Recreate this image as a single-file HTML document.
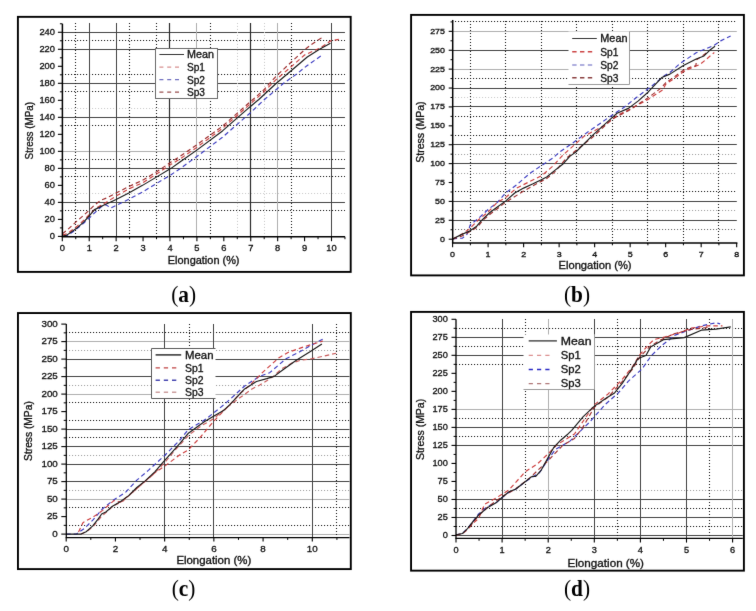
<!DOCTYPE html>
<html><head><meta charset="utf-8"><title>Stress-elongation curves</title>
<style>html,body{margin:0;padding:0;background:#fff;width:756px;height:611px;overflow:hidden}
</style></head>
<body>
<svg width="756" height="611" viewBox="0 0 756 611" style="display:block">
<rect width="756" height="611" fill="#fff"/>
<defs><filter id="bl" filterUnits="userSpaceOnUse" x="0" y="0" width="756" height="611" color-interpolation-filters="sRGB"><feConvolveMatrix order="3" kernelMatrix="0.0072 0.0847 0.0072 0.0847 1.0000 0.0847 0.0072 0.0847 0.0072" edgeMode="duplicate"/></filter></defs>
<g filter="url(#bl)">
<rect width="756" height="611" fill="#fff"/>
<rect x="17.9" y="16.85" width="332.8" height="255.05" fill="none" stroke="#000" stroke-width="1.9"/>
<line x1="62" y1="32.5" x2="344.96" y2="32.5" stroke="#444" stroke-width="1" stroke-linecap="butt"/>
<line x1="62" y1="40.5" x2="344.96" y2="40.5" stroke="#1a1a1a" stroke-width="1.1" stroke-dasharray="1.1 1.9" stroke-linecap="butt"/>
<line x1="62" y1="49.5" x2="344.96" y2="49.5" stroke="#444" stroke-width="1" stroke-linecap="butt"/>
<line x1="62" y1="74.5" x2="344.96" y2="74.5" stroke="#1a1a1a" stroke-width="1.1" stroke-dasharray="1.1 1.9" stroke-linecap="butt"/>
<line x1="62" y1="83.5" x2="344.96" y2="83.5" stroke="#444" stroke-width="1" stroke-linecap="butt"/>
<line x1="62" y1="91.5" x2="344.96" y2="91.5" stroke="#1a1a1a" stroke-width="1.1" stroke-dasharray="1.1 1.9" stroke-linecap="butt"/>
<line x1="62" y1="108.5" x2="344.96" y2="108.5" stroke="#cccccc" stroke-width="1" stroke-dasharray="1.1 1.9" stroke-linecap="butt"/>
<line x1="62" y1="117.5" x2="344.96" y2="117.5" stroke="#444" stroke-width="1" stroke-linecap="butt"/>
<line x1="62" y1="125.5" x2="344.96" y2="125.5" stroke="#1a1a1a" stroke-width="1.1" stroke-dasharray="1.1 1.9" stroke-linecap="butt"/>
<line x1="62" y1="151.5" x2="344.96" y2="151.5" stroke="#b0b0b0" stroke-width="1" stroke-linecap="butt"/>
<line x1="62" y1="159.5" x2="344.96" y2="159.5" stroke="#1a1a1a" stroke-width="1.1" stroke-dasharray="1.1 1.9" stroke-linecap="butt"/>
<line x1="62" y1="168.5" x2="344.96" y2="168.5" stroke="#444" stroke-width="1" stroke-linecap="butt"/>
<line x1="62" y1="176.5" x2="344.96" y2="176.5" stroke="#1a1a1a" stroke-width="1.1" stroke-dasharray="1.1 1.9" stroke-linecap="butt"/>
<line x1="62" y1="193.5" x2="344.96" y2="193.5" stroke="#cccccc" stroke-width="1" stroke-dasharray="1.1 1.9" stroke-linecap="butt"/>
<line x1="62" y1="202.5" x2="344.96" y2="202.5" stroke="#444" stroke-width="1" stroke-linecap="butt"/>
<line x1="62" y1="210.5" x2="344.96" y2="210.5" stroke="#1a1a1a" stroke-width="1.1" stroke-dasharray="1.1 1.9" stroke-linecap="butt"/>
<line x1="75.5" y1="237" x2="75.5" y2="23" stroke="#1a1a1a" stroke-width="1.1" stroke-dasharray="1.1 1.9" stroke-linecap="butt"/>
<line x1="89.5" y1="237" x2="89.5" y2="23" stroke="#444" stroke-width="1" stroke-linecap="butt"/>
<line x1="116.5" y1="237" x2="116.5" y2="23" stroke="#444" stroke-width="1" stroke-linecap="butt"/>
<line x1="129.5" y1="237" x2="129.5" y2="23" stroke="#1a1a1a" stroke-width="1.1" stroke-dasharray="1.1 1.9" stroke-linecap="butt"/>
<line x1="156.5" y1="237" x2="156.5" y2="23" stroke="#1a1a1a" stroke-width="1.1" stroke-dasharray="1.1 1.9" stroke-linecap="butt"/>
<line x1="169.5" y1="237" x2="169.5" y2="23" stroke="#2a2a2a" stroke-width="1.2" stroke-linecap="butt"/>
<line x1="196.5" y1="237" x2="196.5" y2="23" stroke="#b0b0b0" stroke-width="1" stroke-linecap="butt"/>
<line x1="210.5" y1="237" x2="210.5" y2="23" stroke="#1a1a1a" stroke-width="1.1" stroke-dasharray="1.1 1.9" stroke-linecap="butt"/>
<line x1="237.5" y1="237" x2="237.5" y2="23" stroke="#cccccc" stroke-width="1" stroke-dasharray="1.1 1.9" stroke-linecap="butt"/>
<line x1="250.5" y1="237" x2="250.5" y2="23" stroke="#2a2a2a" stroke-width="1.2" stroke-linecap="butt"/>
<line x1="264.5" y1="237" x2="264.5" y2="23" stroke="#cccccc" stroke-width="1" stroke-dasharray="1.1 1.9" stroke-linecap="butt"/>
<line x1="277.5" y1="237" x2="277.5" y2="23" stroke="#b0b0b0" stroke-width="1" stroke-linecap="butt"/>
<line x1="291.5" y1="237" x2="291.5" y2="23" stroke="#1a1a1a" stroke-width="1.1" stroke-dasharray="1.1 1.9" stroke-linecap="butt"/>
<line x1="331.5" y1="237" x2="331.5" y2="23" stroke="#444" stroke-width="1" stroke-linecap="butt"/>
<rect x="155.5" y="48.5" width="62" height="50" fill="#fff" stroke="none"/>
<rect x="155.5" y="48.5" width="62" height="50" fill="none" stroke="#6a6a6a" stroke-width="1"/>
<line x1="159.4" y1="54.5" x2="184" y2="54.5" stroke="#333" stroke-width="1" stroke-linecap="butt"/>
<text x="187" y="57.92" font-family='"Liberation Sans", sans-serif' font-size="10.6" text-anchor="start" font-weight="normal" fill="#111" stroke="#111" stroke-width="0.32" textLength="27" lengthAdjust="spacingAndGlyphs">Mean</text>
<line x1="159.4" y1="67.1" x2="179.2" y2="67.1" stroke="#d89090" stroke-width="1.3" stroke-dasharray="4 3.8" stroke-linecap="butt"/>
<text x="187" y="70.92" font-family='"Liberation Sans", sans-serif' font-size="10.6" text-anchor="start" font-weight="normal" fill="#111" stroke="#111" stroke-width="0.32" textLength="18" lengthAdjust="spacingAndGlyphs">Sp1</text>
<line x1="159.4" y1="79.7" x2="179.2" y2="79.7" stroke="#7070c0" stroke-width="1.3" stroke-dasharray="4 3.8" stroke-linecap="butt"/>
<text x="187" y="83.52" font-family='"Liberation Sans", sans-serif' font-size="10.6" text-anchor="start" font-weight="normal" fill="#111" stroke="#111" stroke-width="0.32" textLength="18" lengthAdjust="spacingAndGlyphs">Sp2</text>
<line x1="159.4" y1="92.1" x2="179.2" y2="92.1" stroke="#9a5050" stroke-width="1.3" stroke-dasharray="4 3.8" stroke-linecap="butt"/>
<text x="187" y="95.92" font-family='"Liberation Sans", sans-serif' font-size="10.6" text-anchor="start" font-weight="normal" fill="#111" stroke="#111" stroke-width="0.32" textLength="18" lengthAdjust="spacingAndGlyphs">Sp3</text>
<path d="M63.65 236.4 L67.68 235.55 L74.14 230.87 L83.84 222.96 L89.22 218.2 L96.49 211.06 L102.68 205.53 L105.91 204.76 L110.76 207.91 L116.14 205.53 L128.79 199.15 L142.52 192 L156.79 183.33 L171.06 174.65 L179.67 168.96 L197.17 156.28 L222.47 137.23 L250.47 112.74 L263.93 99.98 L283.85 83.05 L296.77 73.95 L307.27 65.45 L323.15 54.39" fill="none" stroke="#3a3ac0" stroke-width="1.15" stroke-dasharray="4.5 3" stroke-linejoin="round"/>
<path d="M62.3 235.12 L67.68 233.42 L77.11 226.19 L83.84 220.24 L89.22 214.71 L95.68 208.33 L107.53 201.53 L116.14 196 L128.79 188.94 L142.52 182.82 L156.79 173.89 L171.06 164.36 L179.94 159 L197.17 147.1 L222.47 128.39 L250.47 103.72 L263.93 91.81 L275.78 79.91 L291.12 66.81 L304.58 54.99 L320.46 47.84 L330.96 40.7 L338.77 39.34" fill="none" stroke="#cc3c3c" stroke-width="1.15" stroke-dasharray="4.5 3" stroke-linejoin="round"/>
<path d="M62.3 233.85 L67.68 229.6 L75.76 222.11 L83.84 215.14 L89.22 210.29 L94.6 204.93 L101.33 200 L107.53 197.62 L116.14 193.02 L128.79 186.56 L142.52 180.27 L156.79 171.76 L171.06 161.98 L179.94 156.45 L197.17 144.55 L222.47 126.18 L250.47 101.6 L263.93 89.77 L275.78 76.51 L291.12 62.22 L304.58 49.8 L311.31 44.53 L323.15 36.79" fill="none" stroke="#9c2a2a" stroke-width="1.15" stroke-dasharray="4.5 3" stroke-linejoin="round"/>
<path d="M63.11 235.97 L66.88 235.12 L76.57 228.32 L83.84 221.94 L89.22 215.99 L94.6 209.61 L105.1 204.51 L110.76 201.95 L116.14 199.4 L128.79 193.02 L142.52 185.37 L156.79 176.87 L171.06 168.36 L179.94 161.98 L197.17 149.9 L222.47 130.94 L250.47 106.44 L258.82 99.47 L275.78 83.74 L291.12 70.72 L307.27 56.94 L319.12 49.46 L330.42 43.34" fill="none" stroke="#1a1a1a" stroke-width="1.15" stroke-linejoin="round"/>
<line x1="62.4" y1="236.7" x2="62.4" y2="23.78" stroke="#000" stroke-width="1.5" stroke-linecap="butt"/>
<line x1="61.65" y1="236.7" x2="344.96" y2="236.7" stroke="#000" stroke-width="1.5" stroke-linecap="butt"/>
<line x1="57.9" y1="236.4" x2="62.4" y2="236.4" stroke="#000" stroke-width="1.1" stroke-linecap="butt"/>
<line x1="57.9" y1="219.39" x2="62.4" y2="219.39" stroke="#000" stroke-width="1.1" stroke-linecap="butt"/>
<line x1="57.9" y1="202.38" x2="62.4" y2="202.38" stroke="#000" stroke-width="1.1" stroke-linecap="butt"/>
<line x1="57.9" y1="185.37" x2="62.4" y2="185.37" stroke="#000" stroke-width="1.1" stroke-linecap="butt"/>
<line x1="57.9" y1="168.36" x2="62.4" y2="168.36" stroke="#000" stroke-width="1.1" stroke-linecap="butt"/>
<line x1="57.9" y1="151.35" x2="62.4" y2="151.35" stroke="#000" stroke-width="1.1" stroke-linecap="butt"/>
<line x1="57.9" y1="134.34" x2="62.4" y2="134.34" stroke="#000" stroke-width="1.1" stroke-linecap="butt"/>
<line x1="57.9" y1="117.33" x2="62.4" y2="117.33" stroke="#000" stroke-width="1.1" stroke-linecap="butt"/>
<line x1="57.9" y1="100.32" x2="62.4" y2="100.32" stroke="#000" stroke-width="1.1" stroke-linecap="butt"/>
<line x1="57.9" y1="83.31" x2="62.4" y2="83.31" stroke="#000" stroke-width="1.1" stroke-linecap="butt"/>
<line x1="57.9" y1="66.3" x2="62.4" y2="66.3" stroke="#000" stroke-width="1.1" stroke-linecap="butt"/>
<line x1="57.9" y1="49.29" x2="62.4" y2="49.29" stroke="#000" stroke-width="1.1" stroke-linecap="butt"/>
<line x1="57.9" y1="32.28" x2="62.4" y2="32.28" stroke="#000" stroke-width="1.1" stroke-linecap="butt"/>
<line x1="59.9" y1="227.9" x2="62.4" y2="227.9" stroke="#000" stroke-width="1" stroke-linecap="butt"/>
<line x1="59.9" y1="210.88" x2="62.4" y2="210.88" stroke="#000" stroke-width="1" stroke-linecap="butt"/>
<line x1="59.9" y1="193.88" x2="62.4" y2="193.88" stroke="#000" stroke-width="1" stroke-linecap="butt"/>
<line x1="59.9" y1="176.87" x2="62.4" y2="176.87" stroke="#000" stroke-width="1" stroke-linecap="butt"/>
<line x1="59.9" y1="159.86" x2="62.4" y2="159.86" stroke="#000" stroke-width="1" stroke-linecap="butt"/>
<line x1="59.9" y1="142.84" x2="62.4" y2="142.84" stroke="#000" stroke-width="1" stroke-linecap="butt"/>
<line x1="59.9" y1="125.84" x2="62.4" y2="125.84" stroke="#000" stroke-width="1" stroke-linecap="butt"/>
<line x1="59.9" y1="108.83" x2="62.4" y2="108.83" stroke="#000" stroke-width="1" stroke-linecap="butt"/>
<line x1="59.9" y1="91.81" x2="62.4" y2="91.81" stroke="#000" stroke-width="1" stroke-linecap="butt"/>
<line x1="59.9" y1="74.81" x2="62.4" y2="74.81" stroke="#000" stroke-width="1" stroke-linecap="butt"/>
<line x1="59.9" y1="57.79" x2="62.4" y2="57.79" stroke="#000" stroke-width="1" stroke-linecap="butt"/>
<line x1="59.9" y1="40.78" x2="62.4" y2="40.78" stroke="#000" stroke-width="1" stroke-linecap="butt"/>
<line x1="59.9" y1="23.78" x2="62.4" y2="23.78" stroke="#000" stroke-width="1" stroke-linecap="butt"/>
<line x1="62.3" y1="236.7" x2="62.3" y2="241.2" stroke="#000" stroke-width="1.1" stroke-linecap="butt"/>
<line x1="89.22" y1="236.7" x2="89.22" y2="241.2" stroke="#000" stroke-width="1.1" stroke-linecap="butt"/>
<line x1="116.14" y1="236.7" x2="116.14" y2="241.2" stroke="#000" stroke-width="1.1" stroke-linecap="butt"/>
<line x1="143.06" y1="236.7" x2="143.06" y2="241.2" stroke="#000" stroke-width="1.1" stroke-linecap="butt"/>
<line x1="169.98" y1="236.7" x2="169.98" y2="241.2" stroke="#000" stroke-width="1.1" stroke-linecap="butt"/>
<line x1="196.9" y1="236.7" x2="196.9" y2="241.2" stroke="#000" stroke-width="1.1" stroke-linecap="butt"/>
<line x1="223.82" y1="236.7" x2="223.82" y2="241.2" stroke="#000" stroke-width="1.1" stroke-linecap="butt"/>
<line x1="250.74" y1="236.7" x2="250.74" y2="241.2" stroke="#000" stroke-width="1.1" stroke-linecap="butt"/>
<line x1="277.66" y1="236.7" x2="277.66" y2="241.2" stroke="#000" stroke-width="1.1" stroke-linecap="butt"/>
<line x1="304.58" y1="236.7" x2="304.58" y2="241.2" stroke="#000" stroke-width="1.1" stroke-linecap="butt"/>
<line x1="331.5" y1="236.7" x2="331.5" y2="241.2" stroke="#000" stroke-width="1.1" stroke-linecap="butt"/>
<line x1="75.76" y1="236.7" x2="75.76" y2="239.2" stroke="#000" stroke-width="1" stroke-linecap="butt"/>
<line x1="102.68" y1="236.7" x2="102.68" y2="239.2" stroke="#000" stroke-width="1" stroke-linecap="butt"/>
<line x1="129.6" y1="236.7" x2="129.6" y2="239.2" stroke="#000" stroke-width="1" stroke-linecap="butt"/>
<line x1="156.52" y1="236.7" x2="156.52" y2="239.2" stroke="#000" stroke-width="1" stroke-linecap="butt"/>
<line x1="183.44" y1="236.7" x2="183.44" y2="239.2" stroke="#000" stroke-width="1" stroke-linecap="butt"/>
<line x1="210.36" y1="236.7" x2="210.36" y2="239.2" stroke="#000" stroke-width="1" stroke-linecap="butt"/>
<line x1="237.28" y1="236.7" x2="237.28" y2="239.2" stroke="#000" stroke-width="1" stroke-linecap="butt"/>
<line x1="264.2" y1="236.7" x2="264.2" y2="239.2" stroke="#000" stroke-width="1" stroke-linecap="butt"/>
<line x1="291.12" y1="236.7" x2="291.12" y2="239.2" stroke="#000" stroke-width="1" stroke-linecap="butt"/>
<line x1="318.04" y1="236.7" x2="318.04" y2="239.2" stroke="#000" stroke-width="1" stroke-linecap="butt"/>
<line x1="344.96" y1="236.7" x2="344.96" y2="239.2" stroke="#000" stroke-width="1" stroke-linecap="butt"/>
<text x="54.9" y="238.75" font-family='"Liberation Sans", sans-serif' font-size="9.3" text-anchor="end" font-weight="normal" fill="#111" stroke="#111" stroke-width="0.32">0</text>
<text x="54.9" y="221.74" font-family='"Liberation Sans", sans-serif' font-size="9.3" text-anchor="end" font-weight="normal" fill="#111" stroke="#111" stroke-width="0.32">20</text>
<text x="54.9" y="204.73" font-family='"Liberation Sans", sans-serif' font-size="9.3" text-anchor="end" font-weight="normal" fill="#111" stroke="#111" stroke-width="0.32">40</text>
<text x="54.9" y="187.72" font-family='"Liberation Sans", sans-serif' font-size="9.3" text-anchor="end" font-weight="normal" fill="#111" stroke="#111" stroke-width="0.32">60</text>
<text x="54.9" y="170.71" font-family='"Liberation Sans", sans-serif' font-size="9.3" text-anchor="end" font-weight="normal" fill="#111" stroke="#111" stroke-width="0.32">80</text>
<text x="54.9" y="153.7" font-family='"Liberation Sans", sans-serif' font-size="9.3" text-anchor="end" font-weight="normal" fill="#111" stroke="#111" stroke-width="0.32">100</text>
<text x="54.9" y="136.69" font-family='"Liberation Sans", sans-serif' font-size="9.3" text-anchor="end" font-weight="normal" fill="#111" stroke="#111" stroke-width="0.32">120</text>
<text x="54.9" y="119.68" font-family='"Liberation Sans", sans-serif' font-size="9.3" text-anchor="end" font-weight="normal" fill="#111" stroke="#111" stroke-width="0.32">140</text>
<text x="54.9" y="102.67" font-family='"Liberation Sans", sans-serif' font-size="9.3" text-anchor="end" font-weight="normal" fill="#111" stroke="#111" stroke-width="0.32">160</text>
<text x="54.9" y="85.66" font-family='"Liberation Sans", sans-serif' font-size="9.3" text-anchor="end" font-weight="normal" fill="#111" stroke="#111" stroke-width="0.32">180</text>
<text x="54.9" y="68.65" font-family='"Liberation Sans", sans-serif' font-size="9.3" text-anchor="end" font-weight="normal" fill="#111" stroke="#111" stroke-width="0.32">200</text>
<text x="54.9" y="51.64" font-family='"Liberation Sans", sans-serif' font-size="9.3" text-anchor="end" font-weight="normal" fill="#111" stroke="#111" stroke-width="0.32">220</text>
<text x="54.9" y="34.63" font-family='"Liberation Sans", sans-serif' font-size="9.3" text-anchor="end" font-weight="normal" fill="#111" stroke="#111" stroke-width="0.32">240</text>
<text x="62.3" y="251.3" font-family='"Liberation Sans", sans-serif' font-size="9.3" text-anchor="middle" font-weight="normal" fill="#111" stroke="#111" stroke-width="0.32">0</text>
<text x="89.22" y="251.3" font-family='"Liberation Sans", sans-serif' font-size="9.3" text-anchor="middle" font-weight="normal" fill="#111" stroke="#111" stroke-width="0.32">1</text>
<text x="116.14" y="251.3" font-family='"Liberation Sans", sans-serif' font-size="9.3" text-anchor="middle" font-weight="normal" fill="#111" stroke="#111" stroke-width="0.32">2</text>
<text x="143.06" y="251.3" font-family='"Liberation Sans", sans-serif' font-size="9.3" text-anchor="middle" font-weight="normal" fill="#111" stroke="#111" stroke-width="0.32">3</text>
<text x="169.98" y="251.3" font-family='"Liberation Sans", sans-serif' font-size="9.3" text-anchor="middle" font-weight="normal" fill="#111" stroke="#111" stroke-width="0.32">4</text>
<text x="196.9" y="251.3" font-family='"Liberation Sans", sans-serif' font-size="9.3" text-anchor="middle" font-weight="normal" fill="#111" stroke="#111" stroke-width="0.32">5</text>
<text x="223.82" y="251.3" font-family='"Liberation Sans", sans-serif' font-size="9.3" text-anchor="middle" font-weight="normal" fill="#111" stroke="#111" stroke-width="0.32">6</text>
<text x="250.74" y="251.3" font-family='"Liberation Sans", sans-serif' font-size="9.3" text-anchor="middle" font-weight="normal" fill="#111" stroke="#111" stroke-width="0.32">7</text>
<text x="277.66" y="251.3" font-family='"Liberation Sans", sans-serif' font-size="9.3" text-anchor="middle" font-weight="normal" fill="#111" stroke="#111" stroke-width="0.32">8</text>
<text x="304.58" y="251.3" font-family='"Liberation Sans", sans-serif' font-size="9.3" text-anchor="middle" font-weight="normal" fill="#111" stroke="#111" stroke-width="0.32">9</text>
<text x="331.5" y="251.3" font-family='"Liberation Sans", sans-serif' font-size="9.3" text-anchor="middle" font-weight="normal" fill="#111" stroke="#111" stroke-width="0.32">10</text>
<text x="167.8" y="264.1" font-family='"Liberation Sans", sans-serif' font-size="10" text-anchor="start" font-weight="normal" fill="#111" stroke="#111" stroke-width="0.32" textLength="71.7" lengthAdjust="spacingAndGlyphs">Elongation (%)</text>
<text x="0" y="0" font-family='"Liberation Sans", sans-serif' font-size="10" fill="#111" stroke="#111" stroke-width="0.32" textLength="57.4" lengthAdjust="spacingAndGlyphs" transform="translate(32.6 159.4) rotate(-90)">Stress (MPa)</text>
<text x="0" y="0" font-family='"Liberation Serif", serif' font-size="23.2" text-anchor="middle" fill="#000" transform="translate(183.6 302.3) scale(0.92 1)">(<tspan font-weight="bold">a</tspan>)</text>
<rect x="411.1" y="14.9" width="332.8" height="260.5" fill="none" stroke="#000" stroke-width="1.9"/>
<line x1="452" y1="21.5" x2="736.8" y2="21.5" stroke="#1a1a1a" stroke-width="1.1" stroke-dasharray="1.1 1.9" stroke-linecap="butt"/>
<line x1="452" y1="31.5" x2="736.8" y2="31.5" stroke="#b0b0b0" stroke-width="1" stroke-linecap="butt"/>
<line x1="452" y1="50.5" x2="736.8" y2="50.5" stroke="#444" stroke-width="1" stroke-linecap="butt"/>
<line x1="452" y1="69.5" x2="736.8" y2="69.5" stroke="#b0b0b0" stroke-width="1" stroke-linecap="butt"/>
<line x1="452" y1="78.5" x2="736.8" y2="78.5" stroke="#1a1a1a" stroke-width="1.1" stroke-dasharray="1.1 1.9" stroke-linecap="butt"/>
<line x1="452" y1="88.5" x2="736.8" y2="88.5" stroke="#444" stroke-width="1" stroke-linecap="butt"/>
<line x1="452" y1="97.5" x2="736.8" y2="97.5" stroke="#cccccc" stroke-width="1" stroke-dasharray="1.1 1.9" stroke-linecap="butt"/>
<line x1="452" y1="106.5" x2="736.8" y2="106.5" stroke="#444" stroke-width="1" stroke-linecap="butt"/>
<line x1="452" y1="116.5" x2="736.8" y2="116.5" stroke="#1a1a1a" stroke-width="1.1" stroke-dasharray="1.1 1.9" stroke-linecap="butt"/>
<line x1="452" y1="135.5" x2="736.8" y2="135.5" stroke="#1a1a1a" stroke-width="1.1" stroke-dasharray="1.1 1.9" stroke-linecap="butt"/>
<line x1="452" y1="144.5" x2="736.8" y2="144.5" stroke="#444" stroke-width="1" stroke-linecap="butt"/>
<line x1="452" y1="154.5" x2="736.8" y2="154.5" stroke="#a0a0a0" stroke-width="1" stroke-dasharray="1.1 1.9" stroke-linecap="butt"/>
<line x1="452" y1="163.5" x2="736.8" y2="163.5" stroke="#444" stroke-width="1" stroke-linecap="butt"/>
<line x1="452" y1="173.5" x2="736.8" y2="173.5" stroke="#a0a0a0" stroke-width="1" stroke-dasharray="1.1 1.9" stroke-linecap="butt"/>
<line x1="452" y1="191.5" x2="736.8" y2="191.5" stroke="#1a1a1a" stroke-width="1.1" stroke-dasharray="1.1 1.9" stroke-linecap="butt"/>
<line x1="452" y1="201.5" x2="736.8" y2="201.5" stroke="#444" stroke-width="1" stroke-linecap="butt"/>
<line x1="452" y1="210.5" x2="736.8" y2="210.5" stroke="#a0a0a0" stroke-width="1" stroke-dasharray="1.1 1.9" stroke-linecap="butt"/>
<line x1="452" y1="220.5" x2="736.8" y2="220.5" stroke="#444" stroke-width="1" stroke-linecap="butt"/>
<line x1="452" y1="229.5" x2="736.8" y2="229.5" stroke="#6a6a6a" stroke-width="1" stroke-dasharray="1.1 1.9" stroke-linecap="butt"/>
<line x1="470.5" y1="244" x2="470.5" y2="19" stroke="#1a1a1a" stroke-width="1.1" stroke-dasharray="1.1 1.9" stroke-linecap="butt"/>
<line x1="505.5" y1="244" x2="505.5" y2="19" stroke="#1a1a1a" stroke-width="1.1" stroke-dasharray="1.1 1.9" stroke-linecap="butt"/>
<line x1="541.5" y1="244" x2="541.5" y2="19" stroke="#1a1a1a" stroke-width="1.1" stroke-dasharray="1.1 1.9" stroke-linecap="butt"/>
<line x1="576.5" y1="244" x2="576.5" y2="19" stroke="#1a1a1a" stroke-width="1.1" stroke-dasharray="1.1 1.9" stroke-linecap="butt"/>
<line x1="612.5" y1="244" x2="612.5" y2="19" stroke="#1a1a1a" stroke-width="1.1" stroke-dasharray="1.1 1.9" stroke-linecap="butt"/>
<line x1="647.5" y1="244" x2="647.5" y2="19" stroke="#1a1a1a" stroke-width="1.1" stroke-dasharray="1.1 1.9" stroke-linecap="butt"/>
<line x1="683.5" y1="244" x2="683.5" y2="19" stroke="#1a1a1a" stroke-width="1.1" stroke-dasharray="1.1 1.9" stroke-linecap="butt"/>
<line x1="718.5" y1="244" x2="718.5" y2="19" stroke="#1a1a1a" stroke-width="1.1" stroke-dasharray="1.1 1.9" stroke-linecap="butt"/>
<rect x="568.5" y="31.5" width="61" height="53" fill="#fff" stroke="none"/>
<line x1="629.5" y1="31.5" x2="629.5" y2="84.5" stroke="#9a9a9a" stroke-width="1" stroke-linecap="butt"/>
<line x1="568.5" y1="84.5" x2="629.5" y2="84.5" stroke="#9a9a9a" stroke-width="1" stroke-linecap="butt"/>
<line x1="572.2" y1="38.5" x2="596.8" y2="38.5" stroke="#333" stroke-width="1" stroke-linecap="butt"/>
<text x="600.3" y="42.32" font-family='"Liberation Sans", sans-serif' font-size="10.6" text-anchor="start" font-weight="normal" fill="#111" stroke="#111" stroke-width="0.32" textLength="27.2" lengthAdjust="spacingAndGlyphs">Mean</text>
<line x1="572.2" y1="51.7" x2="592.6" y2="51.7" stroke="#cc4444" stroke-width="1.4" stroke-dasharray="4.4 3.4" stroke-linecap="butt"/>
<text x="600.3" y="55.52" font-family='"Liberation Sans", sans-serif' font-size="10.6" text-anchor="start" font-weight="normal" fill="#111" stroke="#111" stroke-width="0.32" textLength="18.2" lengthAdjust="spacingAndGlyphs">Sp1</text>
<line x1="572.2" y1="65" x2="592.6" y2="65" stroke="#9494d4" stroke-width="1.4" stroke-dasharray="4.4 3.4" stroke-linecap="butt"/>
<text x="600.3" y="68.82" font-family='"Liberation Sans", sans-serif' font-size="10.6" text-anchor="start" font-weight="normal" fill="#111" stroke="#111" stroke-width="0.32" textLength="18.2" lengthAdjust="spacingAndGlyphs">Sp2</text>
<line x1="572.2" y1="77.8" x2="592.6" y2="77.8" stroke="#8a4040" stroke-width="1.4" stroke-dasharray="4.4 3.4" stroke-linecap="butt"/>
<text x="600.3" y="81.62" font-family='"Liberation Sans", sans-serif' font-size="10.6" text-anchor="start" font-weight="normal" fill="#111" stroke="#111" stroke-width="0.32" textLength="18.2" lengthAdjust="spacingAndGlyphs">Sp3</text>
<path d="M452.6 238.82 L462.54 238.07 L467.16 234.14 L470.36 224.61 L478.52 218.34 L488.11 209.5 L497.34 202.39 L505.51 192.95 L516.52 184.93 L529.3 173.82 L542.09 165.13 L553.09 157.95 L559.84 151.75 L569.78 145.1 L584.34 134.52 L608.84 117.37 L623.76 107.54 L638.32 96.05 L651.46 86.23 L664.59 75.57 L669.92 72.55 L679.51 63.85 L696.2 52.74 L704.01 49.57 L714.31 45.26 L720.7 40.88 L730.64 35.97" fill="none" stroke="#3a3ac0" stroke-width="1.15" stroke-dasharray="4.5 3" stroke-linejoin="round"/>
<path d="M452.6 238.82 L459.35 235.72 L468.93 229.37 L478.52 219.78 L488.11 211.99 L497.34 202.39 L505.51 197.63 L516.52 188.11 L529.3 181.76 L542.09 175.41 L553.09 165.89 L563.04 154.93 L584.34 136.11 L604.23 125.53 L617.01 115.63 L628.37 109.96 L648.26 99.38 L663.17 89.55 L665.66 84.26 L672.41 79.73 L683.41 71.79 L691.94 67.63 L699.75 64.61 L705.79 59.7 L714.31 52.52" fill="none" stroke="#cc3c3c" stroke-width="1.15" stroke-dasharray="4.5 3" stroke-linejoin="round"/>
<path d="M452.6 239.2 L461.48 236.18 L469.64 231.64 L477.46 227.11 L482.78 220.3 L490.95 213.5 L505.51 202.39 L523.26 191.28 L538.89 182.51 L546.7 178.58 L554.51 172.16 L566.23 158.33 L592.51 137.24 L612.39 118.95 L628.37 110.71 L648.26 97.64 L661.4 87.81 L665.66 82.75 L672.41 78.21 L683.41 70.28 L691.94 66.5 L695.84 65.74 L696.55 59.85 L703.3 55.16 L708.27 51.76" fill="none" stroke="#9c2a2a" stroke-width="1.15" stroke-dasharray="4.5 3" stroke-linejoin="round"/>
<path d="M452.6 238.9 L460.77 234.89 L469.64 231.04 L476.75 226.2 L481.36 220.61 L489.53 212.75 L497.34 207.08 L505.51 201.11 L514.74 192.95 L523.62 188.11 L532.5 184.1 L540.31 180.25 L546.7 177 L554.51 170.65 L562.68 164.3 L569.78 156.36 L576.17 151.75 L592.51 135.35 L612.39 117.37 L617.01 113.21 L628.37 108.37 L638.32 100.89 L648.26 91.97 L661.75 77.53 L669.92 74.13 L683.41 65.44 L696.2 59.02 L704.01 55.92 L709.69 50.33 L715.02 46.32" fill="none" stroke="#1a1a1a" stroke-width="1.15" stroke-linejoin="round"/>
<line x1="452.7" y1="243.1" x2="452.7" y2="19.96" stroke="#000" stroke-width="1.5" stroke-linecap="butt"/>
<line x1="451.95" y1="243.1" x2="737.4" y2="243.1" stroke="#000" stroke-width="1.5" stroke-linecap="butt"/>
<line x1="448.7" y1="239.2" x2="452.7" y2="239.2" stroke="#000" stroke-width="1.1" stroke-linecap="butt"/>
<line x1="448.7" y1="220.3" x2="452.7" y2="220.3" stroke="#000" stroke-width="1.1" stroke-linecap="butt"/>
<line x1="448.7" y1="201.41" x2="452.7" y2="201.41" stroke="#000" stroke-width="1.1" stroke-linecap="butt"/>
<line x1="448.7" y1="182.51" x2="452.7" y2="182.51" stroke="#000" stroke-width="1.1" stroke-linecap="butt"/>
<line x1="448.7" y1="163.62" x2="452.7" y2="163.62" stroke="#000" stroke-width="1.1" stroke-linecap="butt"/>
<line x1="448.7" y1="144.72" x2="452.7" y2="144.72" stroke="#000" stroke-width="1.1" stroke-linecap="butt"/>
<line x1="448.7" y1="125.83" x2="452.7" y2="125.83" stroke="#000" stroke-width="1.1" stroke-linecap="butt"/>
<line x1="448.7" y1="106.93" x2="452.7" y2="106.93" stroke="#000" stroke-width="1.1" stroke-linecap="butt"/>
<line x1="448.7" y1="88.04" x2="452.7" y2="88.04" stroke="#000" stroke-width="1.1" stroke-linecap="butt"/>
<line x1="448.7" y1="69.14" x2="452.7" y2="69.14" stroke="#000" stroke-width="1.1" stroke-linecap="butt"/>
<line x1="448.7" y1="50.25" x2="452.7" y2="50.25" stroke="#000" stroke-width="1.1" stroke-linecap="butt"/>
<line x1="448.7" y1="31.35" x2="452.7" y2="31.35" stroke="#000" stroke-width="1.1" stroke-linecap="butt"/>
<line x1="450.5" y1="229.75" x2="452.7" y2="229.75" stroke="#000" stroke-width="1" stroke-linecap="butt"/>
<line x1="450.5" y1="210.86" x2="452.7" y2="210.86" stroke="#000" stroke-width="1" stroke-linecap="butt"/>
<line x1="450.5" y1="191.96" x2="452.7" y2="191.96" stroke="#000" stroke-width="1" stroke-linecap="butt"/>
<line x1="450.5" y1="173.07" x2="452.7" y2="173.07" stroke="#000" stroke-width="1" stroke-linecap="butt"/>
<line x1="450.5" y1="154.17" x2="452.7" y2="154.17" stroke="#000" stroke-width="1" stroke-linecap="butt"/>
<line x1="450.5" y1="135.28" x2="452.7" y2="135.28" stroke="#000" stroke-width="1" stroke-linecap="butt"/>
<line x1="450.5" y1="116.38" x2="452.7" y2="116.38" stroke="#000" stroke-width="1" stroke-linecap="butt"/>
<line x1="450.5" y1="97.49" x2="452.7" y2="97.49" stroke="#000" stroke-width="1" stroke-linecap="butt"/>
<line x1="450.5" y1="78.59" x2="452.7" y2="78.59" stroke="#000" stroke-width="1" stroke-linecap="butt"/>
<line x1="450.5" y1="59.7" x2="452.7" y2="59.7" stroke="#000" stroke-width="1" stroke-linecap="butt"/>
<line x1="450.5" y1="40.8" x2="452.7" y2="40.8" stroke="#000" stroke-width="1" stroke-linecap="butt"/>
<line x1="450.5" y1="21.91" x2="452.7" y2="21.91" stroke="#000" stroke-width="1" stroke-linecap="butt"/>
<line x1="452.6" y1="243.1" x2="452.6" y2="247.3" stroke="#000" stroke-width="1.1" stroke-linecap="butt"/>
<line x1="488.11" y1="243.1" x2="488.11" y2="247.3" stroke="#000" stroke-width="1.1" stroke-linecap="butt"/>
<line x1="523.62" y1="243.1" x2="523.62" y2="247.3" stroke="#000" stroke-width="1.1" stroke-linecap="butt"/>
<line x1="559.13" y1="243.1" x2="559.13" y2="247.3" stroke="#000" stroke-width="1.1" stroke-linecap="butt"/>
<line x1="594.64" y1="243.1" x2="594.64" y2="247.3" stroke="#000" stroke-width="1.1" stroke-linecap="butt"/>
<line x1="630.15" y1="243.1" x2="630.15" y2="247.3" stroke="#000" stroke-width="1.1" stroke-linecap="butt"/>
<line x1="665.66" y1="243.1" x2="665.66" y2="247.3" stroke="#000" stroke-width="1.1" stroke-linecap="butt"/>
<line x1="701.17" y1="243.1" x2="701.17" y2="247.3" stroke="#000" stroke-width="1.1" stroke-linecap="butt"/>
<line x1="736.68" y1="243.1" x2="736.68" y2="247.3" stroke="#000" stroke-width="1.1" stroke-linecap="butt"/>
<line x1="470.36" y1="243.1" x2="470.36" y2="245.3" stroke="#000" stroke-width="1" stroke-linecap="butt"/>
<line x1="505.87" y1="243.1" x2="505.87" y2="245.3" stroke="#000" stroke-width="1" stroke-linecap="butt"/>
<line x1="541.38" y1="243.1" x2="541.38" y2="245.3" stroke="#000" stroke-width="1" stroke-linecap="butt"/>
<line x1="576.88" y1="243.1" x2="576.88" y2="245.3" stroke="#000" stroke-width="1" stroke-linecap="butt"/>
<line x1="612.39" y1="243.1" x2="612.39" y2="245.3" stroke="#000" stroke-width="1" stroke-linecap="butt"/>
<line x1="647.9" y1="243.1" x2="647.9" y2="245.3" stroke="#000" stroke-width="1" stroke-linecap="butt"/>
<line x1="683.41" y1="243.1" x2="683.41" y2="245.3" stroke="#000" stroke-width="1" stroke-linecap="butt"/>
<line x1="718.92" y1="243.1" x2="718.92" y2="245.3" stroke="#000" stroke-width="1" stroke-linecap="butt"/>
<text x="445" y="241.58" font-family='"Liberation Sans", sans-serif' font-size="8" text-anchor="end" font-weight="normal" fill="#111" stroke="#111" stroke-width="0.32" textLength="4.94" lengthAdjust="spacingAndGlyphs">0</text>
<text x="445" y="222.68" font-family='"Liberation Sans", sans-serif' font-size="8" text-anchor="end" font-weight="normal" fill="#111" stroke="#111" stroke-width="0.32" textLength="9.87" lengthAdjust="spacingAndGlyphs">25</text>
<text x="445" y="203.79" font-family='"Liberation Sans", sans-serif' font-size="8" text-anchor="end" font-weight="normal" fill="#111" stroke="#111" stroke-width="0.32" textLength="9.87" lengthAdjust="spacingAndGlyphs">50</text>
<text x="445" y="184.89" font-family='"Liberation Sans", sans-serif' font-size="8" text-anchor="end" font-weight="normal" fill="#111" stroke="#111" stroke-width="0.32" textLength="9.87" lengthAdjust="spacingAndGlyphs">75</text>
<text x="445" y="166" font-family='"Liberation Sans", sans-serif' font-size="8" text-anchor="end" font-weight="normal" fill="#111" stroke="#111" stroke-width="0.32" textLength="14.81" lengthAdjust="spacingAndGlyphs">100</text>
<text x="445" y="147.1" font-family='"Liberation Sans", sans-serif' font-size="8" text-anchor="end" font-weight="normal" fill="#111" stroke="#111" stroke-width="0.32" textLength="14.81" lengthAdjust="spacingAndGlyphs">125</text>
<text x="445" y="128.21" font-family='"Liberation Sans", sans-serif' font-size="8" text-anchor="end" font-weight="normal" fill="#111" stroke="#111" stroke-width="0.32" textLength="14.81" lengthAdjust="spacingAndGlyphs">150</text>
<text x="445" y="109.31" font-family='"Liberation Sans", sans-serif' font-size="8" text-anchor="end" font-weight="normal" fill="#111" stroke="#111" stroke-width="0.32" textLength="14.81" lengthAdjust="spacingAndGlyphs">175</text>
<text x="445" y="90.42" font-family='"Liberation Sans", sans-serif' font-size="8" text-anchor="end" font-weight="normal" fill="#111" stroke="#111" stroke-width="0.32" textLength="14.81" lengthAdjust="spacingAndGlyphs">200</text>
<text x="445" y="71.52" font-family='"Liberation Sans", sans-serif' font-size="8" text-anchor="end" font-weight="normal" fill="#111" stroke="#111" stroke-width="0.32" textLength="14.81" lengthAdjust="spacingAndGlyphs">225</text>
<text x="445" y="52.63" font-family='"Liberation Sans", sans-serif' font-size="8" text-anchor="end" font-weight="normal" fill="#111" stroke="#111" stroke-width="0.32" textLength="14.81" lengthAdjust="spacingAndGlyphs">250</text>
<text x="445" y="33.73" font-family='"Liberation Sans", sans-serif' font-size="8" text-anchor="end" font-weight="normal" fill="#111" stroke="#111" stroke-width="0.32" textLength="14.81" lengthAdjust="spacingAndGlyphs">275</text>
<text x="452.6" y="256.9" font-family='"Liberation Sans", sans-serif' font-size="8" text-anchor="middle" font-weight="normal" fill="#111" stroke="#111" stroke-width="0.32" textLength="4.94" lengthAdjust="spacingAndGlyphs">0</text>
<text x="488.11" y="256.9" font-family='"Liberation Sans", sans-serif' font-size="8" text-anchor="middle" font-weight="normal" fill="#111" stroke="#111" stroke-width="0.32" textLength="4.94" lengthAdjust="spacingAndGlyphs">1</text>
<text x="523.62" y="256.9" font-family='"Liberation Sans", sans-serif' font-size="8" text-anchor="middle" font-weight="normal" fill="#111" stroke="#111" stroke-width="0.32" textLength="4.94" lengthAdjust="spacingAndGlyphs">2</text>
<text x="559.13" y="256.9" font-family='"Liberation Sans", sans-serif' font-size="8" text-anchor="middle" font-weight="normal" fill="#111" stroke="#111" stroke-width="0.32" textLength="4.94" lengthAdjust="spacingAndGlyphs">3</text>
<text x="594.64" y="256.9" font-family='"Liberation Sans", sans-serif' font-size="8" text-anchor="middle" font-weight="normal" fill="#111" stroke="#111" stroke-width="0.32" textLength="4.94" lengthAdjust="spacingAndGlyphs">4</text>
<text x="630.15" y="256.9" font-family='"Liberation Sans", sans-serif' font-size="8" text-anchor="middle" font-weight="normal" fill="#111" stroke="#111" stroke-width="0.32" textLength="4.94" lengthAdjust="spacingAndGlyphs">5</text>
<text x="665.66" y="256.9" font-family='"Liberation Sans", sans-serif' font-size="8" text-anchor="middle" font-weight="normal" fill="#111" stroke="#111" stroke-width="0.32" textLength="4.94" lengthAdjust="spacingAndGlyphs">6</text>
<text x="701.17" y="256.9" font-family='"Liberation Sans", sans-serif' font-size="8" text-anchor="middle" font-weight="normal" fill="#111" stroke="#111" stroke-width="0.32" textLength="4.94" lengthAdjust="spacingAndGlyphs">7</text>
<text x="736.68" y="256.9" font-family='"Liberation Sans", sans-serif' font-size="8" text-anchor="middle" font-weight="normal" fill="#111" stroke="#111" stroke-width="0.32" textLength="4.94" lengthAdjust="spacingAndGlyphs">8</text>
<text x="558.6" y="268.8" font-family='"Liberation Sans", sans-serif' font-size="10.4" text-anchor="start" font-weight="normal" fill="#111" stroke="#111" stroke-width="0.32" textLength="72.9" lengthAdjust="spacingAndGlyphs">Elongation (%)</text>
<text x="0" y="0" font-family='"Liberation Sans", sans-serif' font-size="10.5" fill="#111" stroke="#111" stroke-width="0.32" textLength="61.3" lengthAdjust="spacingAndGlyphs" transform="translate(424.2 162.7) rotate(-90)">Stress (MPa)</text>
<text x="0" y="0" font-family='"Liberation Serif", serif' font-size="23.2" text-anchor="middle" fill="#000" transform="translate(577 302.3) scale(0.92 1)">(<tspan font-weight="bold">b</tspan>)</text>
<rect x="17.95" y="313.05" width="332.85" height="256.05" fill="none" stroke="#000" stroke-width="1.9"/>
<line x1="66" y1="332.5" x2="349.5" y2="332.5" stroke="#1a1a1a" stroke-width="1.1" stroke-dasharray="1.1 1.9" stroke-linecap="butt"/>
<line x1="66" y1="341.5" x2="349.5" y2="341.5" stroke="#b0b0b0" stroke-width="1" stroke-linecap="butt"/>
<line x1="66" y1="350.5" x2="349.5" y2="350.5" stroke="#a0a0a0" stroke-width="1" stroke-dasharray="1.1 1.9" stroke-linecap="butt"/>
<line x1="66" y1="359.5" x2="349.5" y2="359.5" stroke="#444" stroke-width="1" stroke-linecap="butt"/>
<line x1="66" y1="376.5" x2="349.5" y2="376.5" stroke="#444" stroke-width="1" stroke-linecap="butt"/>
<line x1="66" y1="385.5" x2="349.5" y2="385.5" stroke="#a0a0a0" stroke-width="1" stroke-dasharray="1.1 1.9" stroke-linecap="butt"/>
<line x1="66" y1="394.5" x2="349.5" y2="394.5" stroke="#b0b0b0" stroke-width="1" stroke-linecap="butt"/>
<line x1="66" y1="402.5" x2="349.5" y2="402.5" stroke="#1a1a1a" stroke-width="1.1" stroke-dasharray="1.1 1.9" stroke-linecap="butt"/>
<line x1="66" y1="420.5" x2="349.5" y2="420.5" stroke="#1a1a1a" stroke-width="1.1" stroke-dasharray="1.1 1.9" stroke-linecap="butt"/>
<line x1="66" y1="429.5" x2="349.5" y2="429.5" stroke="#444" stroke-width="1" stroke-linecap="butt"/>
<line x1="66" y1="437.5" x2="349.5" y2="437.5" stroke="#1a1a1a" stroke-width="1.1" stroke-dasharray="1.1 1.9" stroke-linecap="butt"/>
<line x1="66" y1="446.5" x2="349.5" y2="446.5" stroke="#444" stroke-width="1" stroke-linecap="butt"/>
<line x1="66" y1="455.5" x2="349.5" y2="455.5" stroke="#a0a0a0" stroke-width="1" stroke-dasharray="1.1 1.9" stroke-linecap="butt"/>
<line x1="66" y1="464.5" x2="349.5" y2="464.5" stroke="#444" stroke-width="1" stroke-linecap="butt"/>
<line x1="66" y1="481.5" x2="349.5" y2="481.5" stroke="#444" stroke-width="1" stroke-linecap="butt"/>
<line x1="66" y1="490.5" x2="349.5" y2="490.5" stroke="#a0a0a0" stroke-width="1" stroke-dasharray="1.1 1.9" stroke-linecap="butt"/>
<line x1="66" y1="499.5" x2="349.5" y2="499.5" stroke="#b0b0b0" stroke-width="1" stroke-linecap="butt"/>
<line x1="66" y1="507.5" x2="349.5" y2="507.5" stroke="#1a1a1a" stroke-width="1.1" stroke-dasharray="1.1 1.9" stroke-linecap="butt"/>
<line x1="66" y1="525.5" x2="349.5" y2="525.5" stroke="#1a1a1a" stroke-width="1.1" stroke-dasharray="1.1 1.9" stroke-linecap="butt"/>
<line x1="66" y1="534.5" x2="349.5" y2="534.5" stroke="#b0b0b0" stroke-width="1" stroke-linecap="butt"/>
<line x1="164.5" y1="538" x2="164.5" y2="324" stroke="#444" stroke-width="1" stroke-linecap="butt"/>
<line x1="189.5" y1="538" x2="189.5" y2="324" stroke="#1a1a1a" stroke-width="1.1" stroke-dasharray="1.1 1.9" stroke-linecap="butt"/>
<line x1="213.5" y1="538" x2="213.5" y2="324" stroke="#444" stroke-width="1" stroke-linecap="butt"/>
<line x1="312.5" y1="538" x2="312.5" y2="324" stroke="#444" stroke-width="1" stroke-linecap="butt"/>
<line x1="336.5" y1="538" x2="336.5" y2="324" stroke="#1a1a1a" stroke-width="1.1" stroke-dasharray="1.1 1.9" stroke-linecap="butt"/>
<rect x="151.5" y="348.5" width="64" height="50" fill="#fff" stroke="none"/>
<line x1="151.5" y1="348.5" x2="151.5" y2="398.5" stroke="#5a5a5a" stroke-width="1" stroke-linecap="butt"/>
<line x1="151.5" y1="348.5" x2="215.5" y2="348.5" stroke="#5a5a5a" stroke-width="1" stroke-linecap="butt"/>
<line x1="151.5" y1="398.5" x2="215.5" y2="398.5" stroke="#5a5a5a" stroke-width="1" stroke-linecap="butt"/>
<line x1="155.6" y1="354.9" x2="181.2" y2="354.9" stroke="#222" stroke-width="1.4" stroke-linecap="butt"/>
<text x="185" y="358.72" font-family='"Liberation Sans", sans-serif' font-size="10.6" text-anchor="start" font-weight="normal" fill="#111" stroke="#111" stroke-width="0.32" textLength="28.5" lengthAdjust="spacingAndGlyphs">Mean</text>
<line x1="155.6" y1="367.9" x2="176.4" y2="367.9" stroke="#c04444" stroke-width="1.4" stroke-dasharray="4.3 3.9" stroke-linecap="butt"/>
<text x="185" y="371.72" font-family='"Liberation Sans", sans-serif' font-size="10.6" text-anchor="start" font-weight="normal" fill="#111" stroke="#111" stroke-width="0.32" textLength="18.5" lengthAdjust="spacingAndGlyphs">Sp1</text>
<line x1="155.6" y1="380.2" x2="176.4" y2="380.2" stroke="#4646b0" stroke-width="1.4" stroke-dasharray="4.3 3.9" stroke-linecap="butt"/>
<text x="185" y="384.02" font-family='"Liberation Sans", sans-serif' font-size="10.6" text-anchor="start" font-weight="normal" fill="#111" stroke="#111" stroke-width="0.32" textLength="18.5" lengthAdjust="spacingAndGlyphs">Sp2</text>
<line x1="155.6" y1="392.3" x2="176.4" y2="392.3" stroke="#cc9e9e" stroke-width="1.4" stroke-dasharray="4.3 3.9" stroke-linecap="butt"/>
<text x="185" y="396.12" font-family='"Liberation Sans", sans-serif' font-size="10.6" text-anchor="start" font-weight="normal" fill="#111" stroke="#111" stroke-width="0.32" textLength="18.5" lengthAdjust="spacingAndGlyphs">Sp3</text>
<path d="M66.2 534.1 L76.29 534.1 L84.41 528.43 L92.78 520.17 L102.62 508.69 L113.94 499.73 L125.51 492.38 L136.83 480.13 L148.4 470.33 L164.64 455.49 L179.9 440.02 L188.02 429.87 L205.98 419.09 L223.95 404.67 L230.1 399.21 L244.62 385.98 L259.39 376.39 L269.72 372.68 L285.97 358.68 L299.26 352.1 L312.3 344.68 L322.88 339.08" fill="none" stroke="#3a3ac0" stroke-width="1.15" stroke-dasharray="4.5 3" stroke-linejoin="round"/>
<path d="M78.5 532 L79.49 529.97 L82.93 522.69 L94.5 516.11 L102.62 510.37 L113.94 500.57 L120.59 502.18 L130.19 494.2 L141.75 484.19 L154.8 472.71 L164.64 466.2 L179.9 454.72 L188.02 450.1 L198.85 438.9 L213.12 421.82 L233.06 401.31 L240.19 393.33 L249.05 385.98 L262.34 372.68 L278.58 357.98 L288.92 352.1 L303.69 346.92 L322.88 341.04" fill="none" stroke="#cc3c3c" stroke-width="1.15" stroke-dasharray="4.5 3" stroke-linejoin="round"/>
<path d="M80.97 534.1 L87.12 531.3 L93.27 526.4 L100.65 517.3 L112.96 506.1 L122.8 501.2 L137.57 487.9 L152.33 475.3 L164.64 462.7 L176.94 448 L189.25 434.7 L201.56 425.6 L213.12 419.09 L226.17 408.1 L232.81 402.92 L252.01 388.92 L259.39 385.21 L266.77 380.8 L274.15 375.69 L281.54 368.97 L291.87 363.09 L300.73 360.22 L312.3 358.68 L327.07 355.32 L336.17 353.22" fill="none" stroke="#c85a5a" stroke-width="1.15" stroke-dasharray="4.5 3" stroke-linejoin="round"/>
<path d="M66.2 534.1 L81.21 534.1 L86.13 531.72 L92.78 525.91 L98.44 518.63 L101.64 514.01 L105.82 511.98 L112.47 506.31 L120.59 501.41 L128.71 495.6 L136.83 487.48 L145.2 480.9 L154.8 471.87 L163.16 462.07 L171.28 453.11 L179.9 443.31 L188.02 433.51 L204.26 421.82 L213.12 416.43 L223.95 410.13 L230.1 404.39 L244.62 388.92 L256.44 381.5 L266.77 378.63 L274.15 376.39 L283.01 369.81 L296.3 360.22 L309.59 352.1 L321.9 343.98" fill="none" stroke="#1a1a1a" stroke-width="1.15" stroke-linejoin="round"/>
<line x1="66.3" y1="537.5" x2="66.3" y2="324.1" stroke="#000" stroke-width="1.25" stroke-linecap="butt"/>
<line x1="65.67" y1="537.5" x2="349.5" y2="537.5" stroke="#000" stroke-width="1.25" stroke-linecap="butt"/>
<line x1="61.3" y1="534.1" x2="66.3" y2="534.1" stroke="#000" stroke-width="1.1" stroke-linecap="butt"/>
<line x1="61.3" y1="516.6" x2="66.3" y2="516.6" stroke="#000" stroke-width="1.1" stroke-linecap="butt"/>
<line x1="61.3" y1="499.1" x2="66.3" y2="499.1" stroke="#000" stroke-width="1.1" stroke-linecap="butt"/>
<line x1="61.3" y1="481.6" x2="66.3" y2="481.6" stroke="#000" stroke-width="1.1" stroke-linecap="butt"/>
<line x1="61.3" y1="464.1" x2="66.3" y2="464.1" stroke="#000" stroke-width="1.1" stroke-linecap="butt"/>
<line x1="61.3" y1="446.6" x2="66.3" y2="446.6" stroke="#000" stroke-width="1.1" stroke-linecap="butt"/>
<line x1="61.3" y1="429.1" x2="66.3" y2="429.1" stroke="#000" stroke-width="1.1" stroke-linecap="butt"/>
<line x1="61.3" y1="411.6" x2="66.3" y2="411.6" stroke="#000" stroke-width="1.1" stroke-linecap="butt"/>
<line x1="61.3" y1="394.1" x2="66.3" y2="394.1" stroke="#000" stroke-width="1.1" stroke-linecap="butt"/>
<line x1="61.3" y1="376.6" x2="66.3" y2="376.6" stroke="#000" stroke-width="1.1" stroke-linecap="butt"/>
<line x1="61.3" y1="359.1" x2="66.3" y2="359.1" stroke="#000" stroke-width="1.1" stroke-linecap="butt"/>
<line x1="61.3" y1="341.6" x2="66.3" y2="341.6" stroke="#000" stroke-width="1.1" stroke-linecap="butt"/>
<line x1="61.3" y1="324.1" x2="66.3" y2="324.1" stroke="#000" stroke-width="1.1" stroke-linecap="butt"/>
<line x1="63.7" y1="525.35" x2="66.3" y2="525.35" stroke="#000" stroke-width="1" stroke-linecap="butt"/>
<line x1="63.7" y1="507.85" x2="66.3" y2="507.85" stroke="#000" stroke-width="1" stroke-linecap="butt"/>
<line x1="63.7" y1="490.35" x2="66.3" y2="490.35" stroke="#000" stroke-width="1" stroke-linecap="butt"/>
<line x1="63.7" y1="472.85" x2="66.3" y2="472.85" stroke="#000" stroke-width="1" stroke-linecap="butt"/>
<line x1="63.7" y1="455.35" x2="66.3" y2="455.35" stroke="#000" stroke-width="1" stroke-linecap="butt"/>
<line x1="63.7" y1="437.85" x2="66.3" y2="437.85" stroke="#000" stroke-width="1" stroke-linecap="butt"/>
<line x1="63.7" y1="420.35" x2="66.3" y2="420.35" stroke="#000" stroke-width="1" stroke-linecap="butt"/>
<line x1="63.7" y1="402.85" x2="66.3" y2="402.85" stroke="#000" stroke-width="1" stroke-linecap="butt"/>
<line x1="63.7" y1="385.35" x2="66.3" y2="385.35" stroke="#000" stroke-width="1" stroke-linecap="butt"/>
<line x1="63.7" y1="367.85" x2="66.3" y2="367.85" stroke="#000" stroke-width="1" stroke-linecap="butt"/>
<line x1="63.7" y1="350.35" x2="66.3" y2="350.35" stroke="#000" stroke-width="1" stroke-linecap="butt"/>
<line x1="63.7" y1="332.85" x2="66.3" y2="332.85" stroke="#000" stroke-width="1" stroke-linecap="butt"/>
<line x1="66.2" y1="537.5" x2="66.2" y2="541.5" stroke="#000" stroke-width="1.1" stroke-linecap="butt"/>
<line x1="115.42" y1="537.5" x2="115.42" y2="541.5" stroke="#000" stroke-width="1.1" stroke-linecap="butt"/>
<line x1="164.64" y1="537.5" x2="164.64" y2="541.5" stroke="#000" stroke-width="1.1" stroke-linecap="butt"/>
<line x1="213.86" y1="537.5" x2="213.86" y2="541.5" stroke="#000" stroke-width="1.1" stroke-linecap="butt"/>
<line x1="263.08" y1="537.5" x2="263.08" y2="541.5" stroke="#000" stroke-width="1.1" stroke-linecap="butt"/>
<line x1="312.3" y1="537.5" x2="312.3" y2="541.5" stroke="#000" stroke-width="1.1" stroke-linecap="butt"/>
<line x1="90.81" y1="537.5" x2="90.81" y2="539.9" stroke="#000" stroke-width="1" stroke-linecap="butt"/>
<line x1="140.03" y1="537.5" x2="140.03" y2="539.9" stroke="#000" stroke-width="1" stroke-linecap="butt"/>
<line x1="189.25" y1="537.5" x2="189.25" y2="539.9" stroke="#000" stroke-width="1" stroke-linecap="butt"/>
<line x1="238.47" y1="537.5" x2="238.47" y2="539.9" stroke="#000" stroke-width="1" stroke-linecap="butt"/>
<line x1="287.69" y1="537.5" x2="287.69" y2="539.9" stroke="#000" stroke-width="1" stroke-linecap="butt"/>
<line x1="336.91" y1="537.5" x2="336.91" y2="539.9" stroke="#000" stroke-width="1" stroke-linecap="butt"/>
<text x="57.8" y="536.63" font-family='"Liberation Sans", sans-serif' font-size="9.8" text-anchor="end" font-weight="normal" fill="#111" stroke="#111" stroke-width="0.32">0</text>
<text x="57.8" y="519.13" font-family='"Liberation Sans", sans-serif' font-size="9.8" text-anchor="end" font-weight="normal" fill="#111" stroke="#111" stroke-width="0.32">25</text>
<text x="57.8" y="501.63" font-family='"Liberation Sans", sans-serif' font-size="9.8" text-anchor="end" font-weight="normal" fill="#111" stroke="#111" stroke-width="0.32">50</text>
<text x="57.8" y="484.13" font-family='"Liberation Sans", sans-serif' font-size="9.8" text-anchor="end" font-weight="normal" fill="#111" stroke="#111" stroke-width="0.32">75</text>
<text x="57.8" y="466.63" font-family='"Liberation Sans", sans-serif' font-size="9.8" text-anchor="end" font-weight="normal" fill="#111" stroke="#111" stroke-width="0.32">100</text>
<text x="57.8" y="449.13" font-family='"Liberation Sans", sans-serif' font-size="9.8" text-anchor="end" font-weight="normal" fill="#111" stroke="#111" stroke-width="0.32">125</text>
<text x="57.8" y="431.63" font-family='"Liberation Sans", sans-serif' font-size="9.8" text-anchor="end" font-weight="normal" fill="#111" stroke="#111" stroke-width="0.32">150</text>
<text x="57.8" y="414.13" font-family='"Liberation Sans", sans-serif' font-size="9.8" text-anchor="end" font-weight="normal" fill="#111" stroke="#111" stroke-width="0.32">175</text>
<text x="57.8" y="396.63" font-family='"Liberation Sans", sans-serif' font-size="9.8" text-anchor="end" font-weight="normal" fill="#111" stroke="#111" stroke-width="0.32">200</text>
<text x="57.8" y="379.13" font-family='"Liberation Sans", sans-serif' font-size="9.8" text-anchor="end" font-weight="normal" fill="#111" stroke="#111" stroke-width="0.32">225</text>
<text x="57.8" y="361.63" font-family='"Liberation Sans", sans-serif' font-size="9.8" text-anchor="end" font-weight="normal" fill="#111" stroke="#111" stroke-width="0.32">250</text>
<text x="57.8" y="344.13" font-family='"Liberation Sans", sans-serif' font-size="9.8" text-anchor="end" font-weight="normal" fill="#111" stroke="#111" stroke-width="0.32">275</text>
<text x="57.8" y="326.63" font-family='"Liberation Sans", sans-serif' font-size="9.8" text-anchor="end" font-weight="normal" fill="#111" stroke="#111" stroke-width="0.32">300</text>
<text x="66.2" y="552.2" font-family='"Liberation Sans", sans-serif' font-size="9.8" text-anchor="middle" font-weight="normal" fill="#111" stroke="#111" stroke-width="0.32">0</text>
<text x="115.42" y="552.2" font-family='"Liberation Sans", sans-serif' font-size="9.8" text-anchor="middle" font-weight="normal" fill="#111" stroke="#111" stroke-width="0.32">2</text>
<text x="164.64" y="552.2" font-family='"Liberation Sans", sans-serif' font-size="9.8" text-anchor="middle" font-weight="normal" fill="#111" stroke="#111" stroke-width="0.32">4</text>
<text x="213.86" y="552.2" font-family='"Liberation Sans", sans-serif' font-size="9.8" text-anchor="middle" font-weight="normal" fill="#111" stroke="#111" stroke-width="0.32">6</text>
<text x="263.08" y="552.2" font-family='"Liberation Sans", sans-serif' font-size="9.8" text-anchor="middle" font-weight="normal" fill="#111" stroke="#111" stroke-width="0.32">8</text>
<text x="312.3" y="552.2" font-family='"Liberation Sans", sans-serif' font-size="9.8" text-anchor="middle" font-weight="normal" fill="#111" stroke="#111" stroke-width="0.32">10</text>
<text x="176.4" y="563.6" font-family='"Liberation Sans", sans-serif' font-size="10" text-anchor="start" font-weight="normal" fill="#111" stroke="#111" stroke-width="0.32" textLength="74.8" lengthAdjust="spacingAndGlyphs">Elongation (%)</text>
<text x="0" y="0" font-family='"Liberation Sans", sans-serif' font-size="10.2" fill="#111" stroke="#111" stroke-width="0.32" textLength="59.7" lengthAdjust="spacingAndGlyphs" transform="translate(31.8 460.9) rotate(-90)">Stress (MPa)</text>
<text x="0" y="0" font-family='"Liberation Serif", serif' font-size="23.2" text-anchor="middle" fill="#000" transform="translate(183.6 596.2) scale(0.92 1)">(<tspan font-weight="bold">c</tspan>)</text>
<rect x="411.06" y="311.9" width="332.84" height="258.75" fill="none" stroke="#000" stroke-width="1.9"/>
<line x1="456" y1="328.5" x2="742.8" y2="328.5" stroke="#1a1a1a" stroke-width="1.1" stroke-dasharray="1.1 1.9" stroke-linecap="butt"/>
<line x1="456" y1="337.5" x2="742.8" y2="337.5" stroke="#444" stroke-width="1" stroke-linecap="butt"/>
<line x1="456" y1="346.5" x2="742.8" y2="346.5" stroke="#1a1a1a" stroke-width="1.1" stroke-dasharray="1.1 1.9" stroke-linecap="butt"/>
<line x1="456" y1="355.5" x2="742.8" y2="355.5" stroke="#444" stroke-width="1" stroke-linecap="butt"/>
<line x1="456" y1="364.5" x2="742.8" y2="364.5" stroke="#1a1a1a" stroke-width="1.1" stroke-dasharray="1.1 1.9" stroke-linecap="butt"/>
<line x1="456" y1="409.5" x2="742.8" y2="409.5" stroke="#b0b0b0" stroke-width="1" stroke-linecap="butt"/>
<line x1="456" y1="418.5" x2="742.8" y2="418.5" stroke="#1a1a1a" stroke-width="1.1" stroke-dasharray="1.1 1.9" stroke-linecap="butt"/>
<line x1="456" y1="427.5" x2="742.8" y2="427.5" stroke="#444" stroke-width="1" stroke-linecap="butt"/>
<line x1="456" y1="436.5" x2="742.8" y2="436.5" stroke="#1a1a1a" stroke-width="1.1" stroke-dasharray="1.1 1.9" stroke-linecap="butt"/>
<line x1="456" y1="445.5" x2="742.8" y2="445.5" stroke="#444" stroke-width="1" stroke-linecap="butt"/>
<line x1="456" y1="490.5" x2="742.8" y2="490.5" stroke="#a0a0a0" stroke-width="1" stroke-dasharray="1.1 1.9" stroke-linecap="butt"/>
<line x1="456" y1="499.5" x2="742.8" y2="499.5" stroke="#444" stroke-width="1" stroke-linecap="butt"/>
<line x1="456" y1="508.5" x2="742.8" y2="508.5" stroke="#1a1a1a" stroke-width="1.1" stroke-dasharray="1.1 1.9" stroke-linecap="butt"/>
<line x1="456" y1="517.5" x2="742.8" y2="517.5" stroke="#444" stroke-width="1" stroke-linecap="butt"/>
<line x1="456" y1="526.5" x2="742.8" y2="526.5" stroke="#1a1a1a" stroke-width="1.1" stroke-dasharray="1.1 1.9" stroke-linecap="butt"/>
<line x1="456" y1="535.5" x2="742.8" y2="535.5" stroke="#444" stroke-width="1" stroke-linecap="butt"/>
<line x1="502.5" y1="539" x2="502.5" y2="319" stroke="#444" stroke-width="1" stroke-linecap="butt"/>
<line x1="525.5" y1="539" x2="525.5" y2="319" stroke="#1a1a1a" stroke-width="1.1" stroke-dasharray="1.1 1.9" stroke-linecap="butt"/>
<line x1="548.5" y1="539" x2="548.5" y2="319" stroke="#b0b0b0" stroke-width="1" stroke-linecap="butt"/>
<line x1="594.5" y1="539" x2="594.5" y2="319" stroke="#444" stroke-width="1" stroke-linecap="butt"/>
<line x1="617.5" y1="539" x2="617.5" y2="319" stroke="#1a1a1a" stroke-width="1.1" stroke-dasharray="1.1 1.9" stroke-linecap="butt"/>
<line x1="640.5" y1="539" x2="640.5" y2="319" stroke="#444" stroke-width="1" stroke-linecap="butt"/>
<line x1="686.5" y1="539" x2="686.5" y2="319" stroke="#444" stroke-width="1" stroke-linecap="butt"/>
<line x1="709.5" y1="539" x2="709.5" y2="319" stroke="#1a1a1a" stroke-width="1.1" stroke-dasharray="1.1 1.9" stroke-linecap="butt"/>
<line x1="732.5" y1="539" x2="732.5" y2="319" stroke="#b0b0b0" stroke-width="1" stroke-linecap="butt"/>
<rect x="523.5" y="334.5" width="71" height="55" fill="#fff" stroke="none"/>
<line x1="594.5" y1="334.5" x2="594.5" y2="389.5" stroke="#9a9a9a" stroke-width="1" stroke-linecap="butt"/>
<line x1="523.5" y1="389.5" x2="594.5" y2="389.5" stroke="#9a9a9a" stroke-width="1" stroke-linecap="butt"/>
<line x1="528.7" y1="340.9" x2="556.9" y2="340.9" stroke="#222" stroke-width="1.2" stroke-linecap="butt"/>
<text x="560.8" y="344.72" font-family='"Liberation Sans", sans-serif' font-size="10.6" text-anchor="start" font-weight="normal" fill="#111" stroke="#111" stroke-width="0.32" textLength="30.7" lengthAdjust="spacingAndGlyphs">Mean</text>
<line x1="528.7" y1="355.3" x2="549.7" y2="355.3" stroke="#dc9090" stroke-width="1.3" stroke-dasharray="4.2 4.1" stroke-linecap="butt"/>
<text x="560.8" y="359.12" font-family='"Liberation Sans", sans-serif' font-size="10.6" text-anchor="start" font-weight="normal" fill="#111" stroke="#111" stroke-width="0.32" textLength="20" lengthAdjust="spacingAndGlyphs">Sp1</text>
<line x1="528.7" y1="369.5" x2="549.7" y2="369.5" stroke="#2a2ac4" stroke-width="1.5" stroke-dasharray="4.2 4.1" stroke-linecap="butt"/>
<text x="560.8" y="373.32" font-family='"Liberation Sans", sans-serif' font-size="10.6" text-anchor="start" font-weight="normal" fill="#111" stroke="#111" stroke-width="0.32" textLength="20" lengthAdjust="spacingAndGlyphs">Sp2</text>
<line x1="528.7" y1="383.6" x2="549.7" y2="383.6" stroke="#b07878" stroke-width="1.3" stroke-dasharray="4.2 4.1" stroke-linecap="butt"/>
<text x="560.8" y="387.42" font-family='"Liberation Sans", sans-serif' font-size="10.6" text-anchor="start" font-weight="normal" fill="#111" stroke="#111" stroke-width="0.32" textLength="20" lengthAdjust="spacingAndGlyphs">Sp3</text>
<path d="M456 534.92 L462.45 533.48 L467.52 528.58 L473.06 521.37 L478.59 513.88 L487.35 506.67 L496.57 502.35 L502.56 497.3 L509.01 492.26 L515.93 488.94 L525.15 481.74 L539.44 472.73 L548.2 459.18 L555.58 449.3 L569.87 441.16 L589.23 422.49 L604.9 404.77 L618.27 392.95 L628.41 381.13 L641.78 369.23 L651.46 355.54 L661.61 345.6 L669.44 339.69 L674.05 335.51 L688.81 330.17 L701.25 325.92 L716 322.75 L720.15 323.83" fill="none" stroke="#3a3ac0" stroke-width="1.15" stroke-dasharray="4.5 3" stroke-linejoin="round"/>
<path d="M456 535.14 L462.45 533.7 L467.52 529.73 L473.06 523.25 L478.59 518.64 L484.58 504.22 L494.72 498.82 L509.01 489.88 L525.15 471.86 L537.6 463.72 L548.2 453.77 L556.96 444.76 L574.48 433.95 L594.3 404.77 L608.13 393.95 L622.42 379.11 L632.1 367.36 L639.94 354.53 L647.78 345.6 L653.77 339.69 L665.29 336.73 L679.12 332.84 L691.11 328.08 L707.71 325.92 L722.46 325.92" fill="none" stroke="#cc3c3c" stroke-width="1.15" stroke-dasharray="4.5 3" stroke-linejoin="round"/>
<path d="M469.83 526.85 L478.59 515.32 L488.27 506.67 L502.1 496.58 L515.93 488.65 L529.76 477.84 L548.2 460.55 L562.49 445.63 L574.48 438.42 L582.77 427.39 L594.3 407.22 L608.13 397.13 L622.42 381.27 L632.1 369.74 L639.94 356.77 L649.62 346.68 L658.84 340.91 L674.05 333.7 L691.11 329.38 L709.55 327.22" fill="none" stroke="#9c2a2a" stroke-width="1.15" stroke-dasharray="4.5 3" stroke-linejoin="round"/>
<path d="M456 534.92 L462.45 533.48 L467.52 528.58 L473.06 521.37 L478.59 515.03 L487.35 507.83 L496.57 502.42 L502.56 497.01 L509.01 491.68 L515.93 488.94 L525.15 481.74 L532.07 476.33 L535.75 476.33 L541.28 470.06 L548.2 457.38 L553.73 447.5 L560.65 440.22 L568.02 433.95 L571.71 430.35 L583.24 416.58 L593.84 406.64 L606.75 397.85 L614.58 392.95 L622.42 383.07 L630.26 371.25 L638.1 358.42 L645.93 355.54 L650.54 347.11 L663.45 339.69 L684.2 337.6 L701.25 330.17 L716 329.09 L730.76 326.93" fill="none" stroke="#1a1a1a" stroke-width="1.15" stroke-linejoin="round"/>
<line x1="456" y1="538.4" x2="456" y2="319.29" stroke="#000" stroke-width="1.3" stroke-linecap="butt"/>
<line x1="455.35" y1="538.4" x2="742.8" y2="538.4" stroke="#000" stroke-width="1.3" stroke-linecap="butt"/>
<line x1="451.5" y1="535.5" x2="456" y2="535.5" stroke="#000" stroke-width="1.1" stroke-linecap="butt"/>
<line x1="451.5" y1="517.48" x2="456" y2="517.48" stroke="#000" stroke-width="1.1" stroke-linecap="butt"/>
<line x1="451.5" y1="499.46" x2="456" y2="499.46" stroke="#000" stroke-width="1.1" stroke-linecap="butt"/>
<line x1="451.5" y1="481.45" x2="456" y2="481.45" stroke="#000" stroke-width="1.1" stroke-linecap="butt"/>
<line x1="451.5" y1="463.43" x2="456" y2="463.43" stroke="#000" stroke-width="1.1" stroke-linecap="butt"/>
<line x1="451.5" y1="445.41" x2="456" y2="445.41" stroke="#000" stroke-width="1.1" stroke-linecap="butt"/>
<line x1="451.5" y1="427.39" x2="456" y2="427.39" stroke="#000" stroke-width="1.1" stroke-linecap="butt"/>
<line x1="451.5" y1="409.38" x2="456" y2="409.38" stroke="#000" stroke-width="1.1" stroke-linecap="butt"/>
<line x1="451.5" y1="391.36" x2="456" y2="391.36" stroke="#000" stroke-width="1.1" stroke-linecap="butt"/>
<line x1="451.5" y1="373.34" x2="456" y2="373.34" stroke="#000" stroke-width="1.1" stroke-linecap="butt"/>
<line x1="451.5" y1="355.32" x2="456" y2="355.32" stroke="#000" stroke-width="1.1" stroke-linecap="butt"/>
<line x1="451.5" y1="337.31" x2="456" y2="337.31" stroke="#000" stroke-width="1.1" stroke-linecap="butt"/>
<line x1="451.5" y1="319.29" x2="456" y2="319.29" stroke="#000" stroke-width="1.1" stroke-linecap="butt"/>
<line x1="453.6" y1="526.49" x2="456" y2="526.49" stroke="#000" stroke-width="1" stroke-linecap="butt"/>
<line x1="453.6" y1="508.47" x2="456" y2="508.47" stroke="#000" stroke-width="1" stroke-linecap="butt"/>
<line x1="453.6" y1="490.46" x2="456" y2="490.46" stroke="#000" stroke-width="1" stroke-linecap="butt"/>
<line x1="453.6" y1="472.44" x2="456" y2="472.44" stroke="#000" stroke-width="1" stroke-linecap="butt"/>
<line x1="453.6" y1="454.42" x2="456" y2="454.42" stroke="#000" stroke-width="1" stroke-linecap="butt"/>
<line x1="453.6" y1="436.4" x2="456" y2="436.4" stroke="#000" stroke-width="1" stroke-linecap="butt"/>
<line x1="453.6" y1="418.39" x2="456" y2="418.39" stroke="#000" stroke-width="1" stroke-linecap="butt"/>
<line x1="453.6" y1="400.37" x2="456" y2="400.37" stroke="#000" stroke-width="1" stroke-linecap="butt"/>
<line x1="453.6" y1="382.35" x2="456" y2="382.35" stroke="#000" stroke-width="1" stroke-linecap="butt"/>
<line x1="453.6" y1="364.33" x2="456" y2="364.33" stroke="#000" stroke-width="1" stroke-linecap="butt"/>
<line x1="453.6" y1="346.32" x2="456" y2="346.32" stroke="#000" stroke-width="1" stroke-linecap="butt"/>
<line x1="453.6" y1="328.3" x2="456" y2="328.3" stroke="#000" stroke-width="1" stroke-linecap="butt"/>
<line x1="456" y1="538.4" x2="456" y2="542.6" stroke="#000" stroke-width="1.1" stroke-linecap="butt"/>
<line x1="502.1" y1="538.4" x2="502.1" y2="542.6" stroke="#000" stroke-width="1.1" stroke-linecap="butt"/>
<line x1="548.2" y1="538.4" x2="548.2" y2="542.6" stroke="#000" stroke-width="1.1" stroke-linecap="butt"/>
<line x1="594.3" y1="538.4" x2="594.3" y2="542.6" stroke="#000" stroke-width="1.1" stroke-linecap="butt"/>
<line x1="640.4" y1="538.4" x2="640.4" y2="542.6" stroke="#000" stroke-width="1.1" stroke-linecap="butt"/>
<line x1="686.5" y1="538.4" x2="686.5" y2="542.6" stroke="#000" stroke-width="1.1" stroke-linecap="butt"/>
<line x1="732.6" y1="538.4" x2="732.6" y2="542.6" stroke="#000" stroke-width="1.1" stroke-linecap="butt"/>
<line x1="479.05" y1="538.4" x2="479.05" y2="540.8" stroke="#000" stroke-width="1" stroke-linecap="butt"/>
<line x1="525.15" y1="538.4" x2="525.15" y2="540.8" stroke="#000" stroke-width="1" stroke-linecap="butt"/>
<line x1="571.25" y1="538.4" x2="571.25" y2="540.8" stroke="#000" stroke-width="1" stroke-linecap="butt"/>
<line x1="617.35" y1="538.4" x2="617.35" y2="540.8" stroke="#000" stroke-width="1" stroke-linecap="butt"/>
<line x1="663.45" y1="538.4" x2="663.45" y2="540.8" stroke="#000" stroke-width="1" stroke-linecap="butt"/>
<line x1="709.55" y1="538.4" x2="709.55" y2="540.8" stroke="#000" stroke-width="1" stroke-linecap="butt"/>
<text x="447.8" y="537.81" font-family='"Liberation Sans", sans-serif' font-size="9.2" text-anchor="end" font-weight="normal" fill="#111" stroke="#111" stroke-width="0.32">0</text>
<text x="447.8" y="519.79" font-family='"Liberation Sans", sans-serif' font-size="9.2" text-anchor="end" font-weight="normal" fill="#111" stroke="#111" stroke-width="0.32">25</text>
<text x="447.8" y="501.78" font-family='"Liberation Sans", sans-serif' font-size="9.2" text-anchor="end" font-weight="normal" fill="#111" stroke="#111" stroke-width="0.32">50</text>
<text x="447.8" y="483.76" font-family='"Liberation Sans", sans-serif' font-size="9.2" text-anchor="end" font-weight="normal" fill="#111" stroke="#111" stroke-width="0.32">75</text>
<text x="447.8" y="465.74" font-family='"Liberation Sans", sans-serif' font-size="9.2" text-anchor="end" font-weight="normal" fill="#111" stroke="#111" stroke-width="0.32">100</text>
<text x="447.8" y="447.72" font-family='"Liberation Sans", sans-serif' font-size="9.2" text-anchor="end" font-weight="normal" fill="#111" stroke="#111" stroke-width="0.32">125</text>
<text x="447.8" y="429.71" font-family='"Liberation Sans", sans-serif' font-size="9.2" text-anchor="end" font-weight="normal" fill="#111" stroke="#111" stroke-width="0.32">150</text>
<text x="447.8" y="411.69" font-family='"Liberation Sans", sans-serif' font-size="9.2" text-anchor="end" font-weight="normal" fill="#111" stroke="#111" stroke-width="0.32">175</text>
<text x="447.8" y="393.67" font-family='"Liberation Sans", sans-serif' font-size="9.2" text-anchor="end" font-weight="normal" fill="#111" stroke="#111" stroke-width="0.32">200</text>
<text x="447.8" y="375.65" font-family='"Liberation Sans", sans-serif' font-size="9.2" text-anchor="end" font-weight="normal" fill="#111" stroke="#111" stroke-width="0.32">225</text>
<text x="447.8" y="357.64" font-family='"Liberation Sans", sans-serif' font-size="9.2" text-anchor="end" font-weight="normal" fill="#111" stroke="#111" stroke-width="0.32">250</text>
<text x="447.8" y="339.62" font-family='"Liberation Sans", sans-serif' font-size="9.2" text-anchor="end" font-weight="normal" fill="#111" stroke="#111" stroke-width="0.32">275</text>
<text x="447.8" y="321.6" font-family='"Liberation Sans", sans-serif' font-size="9.2" text-anchor="end" font-weight="normal" fill="#111" stroke="#111" stroke-width="0.32">300</text>
<text x="456" y="553.2" font-family='"Liberation Sans", sans-serif' font-size="9.2" text-anchor="middle" font-weight="normal" fill="#111" stroke="#111" stroke-width="0.32">0</text>
<text x="502.1" y="553.2" font-family='"Liberation Sans", sans-serif' font-size="9.2" text-anchor="middle" font-weight="normal" fill="#111" stroke="#111" stroke-width="0.32">1</text>
<text x="548.2" y="553.2" font-family='"Liberation Sans", sans-serif' font-size="9.2" text-anchor="middle" font-weight="normal" fill="#111" stroke="#111" stroke-width="0.32">2</text>
<text x="594.3" y="553.2" font-family='"Liberation Sans", sans-serif' font-size="9.2" text-anchor="middle" font-weight="normal" fill="#111" stroke="#111" stroke-width="0.32">3</text>
<text x="640.4" y="553.2" font-family='"Liberation Sans", sans-serif' font-size="9.2" text-anchor="middle" font-weight="normal" fill="#111" stroke="#111" stroke-width="0.32">4</text>
<text x="686.5" y="553.2" font-family='"Liberation Sans", sans-serif' font-size="9.2" text-anchor="middle" font-weight="normal" fill="#111" stroke="#111" stroke-width="0.32">5</text>
<text x="732.6" y="553.2" font-family='"Liberation Sans", sans-serif' font-size="9.2" text-anchor="middle" font-weight="normal" fill="#111" stroke="#111" stroke-width="0.32">6</text>
<text x="567.5" y="566.7" font-family='"Liberation Sans", sans-serif' font-size="10.4" text-anchor="start" font-weight="normal" fill="#111" stroke="#111" stroke-width="0.32" textLength="76.5" lengthAdjust="spacingAndGlyphs">Elongation (%)</text>
<text x="0" y="0" font-family='"Liberation Sans", sans-serif' font-size="10.5" fill="#111" stroke="#111" stroke-width="0.32" textLength="61.2" lengthAdjust="spacingAndGlyphs" transform="translate(424 460) rotate(-90)">Stress (MPa)</text>
<text x="0" y="0" font-family='"Liberation Serif", serif' font-size="23.2" text-anchor="middle" fill="#000" transform="translate(577 596.2) scale(0.92 1)">(<tspan font-weight="bold">d</tspan>)</text>
</g>
</svg>
</body></html>
